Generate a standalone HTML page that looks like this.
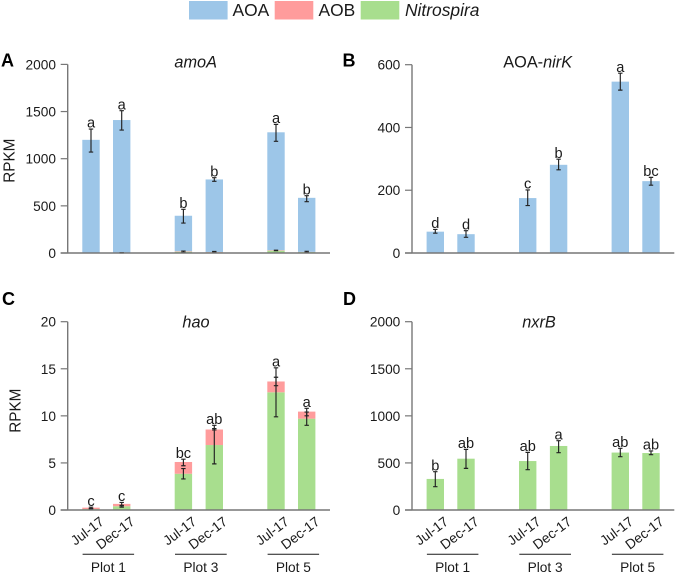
<!DOCTYPE html>
<html lang="en">
<head>
<meta charset="utf-8">
<title>RPKM of nitrification genes</title>
<style>
html,body{margin:0;padding:0;background:#fff;width:675px;height:573px;overflow:hidden}
svg{display:block;font-family:"Liberation Sans",sans-serif;fill:#1a1a1a}
</style>
</head>
<body>
<svg id="figure" width="675" height="573" viewBox="0 0 675 573" xmlns="http://www.w3.org/2000/svg">
  <g>
    <rect x="189" y="1" width="38.6" height="18.5" fill="#9DC6E8"/>
    <text x="232.5" y="16" font-size="17.4">AOA</text>
    <rect x="274.7" y="1" width="38.6" height="18.5" fill="#FF9C9C"/>
    <text x="318.5" y="16" font-size="17.4">AOB</text>
    <rect x="360.7" y="1" width="38.6" height="18.5" fill="#A8DE8E"/>
    <text x="405" y="16" font-size="17.4" font-style="italic">Nitrospira</text>
  </g>
  <text x="1" y="66.7" font-size="18" font-weight="bold" fill="#000">A</text>
  <text x="342.5" y="66.7" font-size="18" font-weight="bold" fill="#000">B</text>
  <text x="2" y="305" font-size="18" font-weight="bold" fill="#000">C</text>
  <text x="343" y="305" font-size="18" font-weight="bold" fill="#000">D</text>
  <text x="195.7" y="67.5" font-size="16.3" font-style="italic" text-anchor="middle">amoA</text>
  <text x="537.7" y="67.5" font-size="16.3" text-anchor="middle">AOA-<tspan font-style="italic">nirK</tspan></text>
  <text x="196" y="327.7" font-size="16.3" font-style="italic" text-anchor="middle">hao</text>
  <text x="539" y="327.7" font-size="16.3" font-style="italic" text-anchor="middle">nxrB</text>
  <text font-size="15.3" text-anchor="middle" transform="translate(14.5 160.7) rotate(-90)">RPKM</text>
  <text font-size="15.3" text-anchor="middle" transform="translate(20.5 410.7) rotate(-90)">RPKM</text>
</svg>
<script>
// Shared categories
const dates = ['Jul-17', 'Dec-17', 'Jul-17', 'Dec-17', 'Jul-17', 'Dec-17'];
const plots = ['Plot 1', 'Plot 3', 'Plot 5'];

// Panel A: amoA
const amoaTicks = [0, 500, 1000, 1500, 2000];
const amoaNitrospira = [3, 2, 14, 8, 25, 10];
const amoaAob = [2, 1, 5, 3, 5, 2];
const amoaAoa = [1195, 1407, 376, 769, 1250, 573];
const amoaNitrospiraLow = [null, 0, 5, 4, 24, 4];
const amoaNitrospiraHigh = [null, 4, 20, 16, 30, 18];
const amoaAoaLow = [1070, 1304, 318, 760, 1184, 544];
const amoaAoaHigh = [1314, 1509, 463, 799, 1364, 608];
const amoaLetters = ['a', 'a', 'b', 'b', 'a', 'b'];

// Panel B: AOA-nirK
const nirkTicks = [0, 200, 400, 600];
const nirkAoa = [68, 60, 175, 281, 546, 229];
const nirkLow = [63, 50, 151, 265, 519, 216];
const nirkHigh = [75, 71, 201, 299, 573, 241];
const nirkLetters = ['d', 'd', 'c', 'b', 'a', 'bc'];

// Panel C: hao
const haoTicks = [0, 5, 10, 15, 20];
const haoNitrospira = [0.1, 0.4, 3.85, 6.9, 12.5, 9.7];
const haoAob = [0.15, 0.25, 1.25, 1.65, 1.15, 0.75];
const haoNitrospiraLow = [0.05, 0.3, 3.3, 4.9, 9.9, 9.0];
const haoNitrospiraHigh = [0.15, 0.5, 4.4, 8.65, 14.1, 10.4];
const haoAobLow = [0.15, 0.45, 4.7, 8.5, 13.2, 10.0];
const haoAobHigh = [0.3, 0.8, 5.4, 9.0, 15.1, 10.8];
const haoLetters = ['c', 'c', 'bc', 'ab', 'a', 'a'];

// Panel D: nxrB
const nxrbTicks = [0, 500, 1000, 1500, 2000];
const nxrbNitrospira = [330, 545, 520, 680, 610, 605];
const nxrbLow = [248, 442, 428, 609, 566, 588];
const nxrbHigh = [407, 644, 612, 736, 655, 627];
const nxrbLetters = ['b', 'ab', 'ab', 'a', 'ab', 'ab'];

const AOA_COLOR = '#9DC6E8';
const AOB_COLOR = '#FF9C9C';
const NITRO_COLOR = '#A8DE8E';
const AXIS_COLOR = '#777777';
const NS = 'http://www.w3.org/2000/svg';
const figure = document.getElementById('figure');

function make(tag, attrs, text) {
  const el = document.createElementNS(NS, tag);
  for (const k in attrs) el.setAttribute(k, attrs[k]);
  if (text !== undefined) el.textContent = text;
  figure.appendChild(el);
  return el;
}

function drawPanel(p) {
  const yScale = v => p.y0 - (v / p.max) * (p.y0 - p.yTop);
  const xScale = i => p.axisX + [23.3, 54, 115.7, 146.6, 208.3, 239][i];
  const barWidth = 17.4;

  // Stacked bars
  const base = p.letters.map(() => 0);
  p.series.forEach(s => {
    s.values.forEach((v, i) => {
      const top = yScale(base[i] + v);
      const bottom = yScale(base[i]);
      const bar = make('rect', {x: xScale(i) - barWidth / 2, y: top, width: barWidth, height: bottom - top, fill: s.color});
      
      
      base[i] += v;
    });
  });

  // Error bars
  const tops = p.letters.map(() => 0);
  p.errors.forEach(e => {
    e.low.forEach((lo, i) => {
      if (lo === null) return;
      const hi = e.high[i];
      tops[i] = Math.max(tops[i], hi);
      const d = 'M' + (xScale(i) - 2.2) + ' ' + yScale(hi) + 'h4.4M' + xScale(i) + ' ' + yScale(hi) + 'V' + yScale(lo) + 'M' + (xScale(i) - 2.2) + ' ' + yScale(lo) + 'h4.4';
      const err = make('path', {d: d, fill: 'none', stroke: '#222222', 'stroke-width': 1.15});
      
      
    });
  });

  // Significance letters
  p.letters.forEach((t, i) => {
    const top = Math.max(tops[i], base[i]);
    const lab = make('text', {x: xScale(i), y: yScale(top) - 1.4, 'font-size': 14.6, 'text-anchor': 'middle'}, t);
    
    
  });

  // Axes
  const yAxis = make('line', {x1: p.axisX, x2: p.axisX, y1: p.yTop, y2: p.y0, stroke: AXIS_COLOR, 'stroke-width': 1.4});
  
  
  const xAxis = make('line', {x1: p.axisX - 7, x2: p.axisX + 262.3, y1: p.y0, y2: p.y0, stroke: AXIS_COLOR, 'stroke-width': 1.4});
  
  

  p.ticks.forEach(t => {
    const y = yScale(t);
    const tick = make('line', {x1: p.axisX - 7, x2: p.axisX, y1: y, y2: y, stroke: AXIS_COLOR, 'stroke-width': 1.2});
    
    
    const lab = make('text', {x: p.axisX - 11.7, y: y + 5, 'font-size': 13.7, 'text-anchor': 'end'}, String(t));
    
    
  });

  // X labels (bottom row only)
  if (p.showX) {
    dates.forEach((t, i) => {
      const lab = make('text', {'font-size': 13.7, 'text-anchor': 'end', transform: 'translate(' + (xScale(i) + 14) + ' ' + (p.y0 + 13.5) + ') rotate(-37)'}, t);
      
      
    });
    plots.forEach((t, k) => {
      const a = xScale(k * 2) - 8.4;
      const b = xScale(k * 2 + 1) + 12.4;
      const rule = make('line', {x1: a, x2: b, y1: 554.3, y2: 554.3, stroke: '#1a1a1a', 'stroke-width': 1});
      
      
      const lab = make('text', {x: (a + b) / 2, y: 572, 'font-size': 13.7, 'text-anchor': 'middle'}, t);
      
      
    });
  }
}

drawPanel({
  id: 'panel-a', axisX: 67.7, yTop: 64.4, y0: 253, max: 2000, ticks: amoaTicks, letters: amoaLetters, showX: false,
  series: [
    {name: 'nitrospira', color: NITRO_COLOR, values: amoaNitrospira},
    {name: 'aob', color: AOB_COLOR, values: amoaAob},
    {name: 'aoa', color: AOA_COLOR, values: amoaAoa}
  ],
  errors: [
    {name: 'nitrospira', low: amoaNitrospiraLow, high: amoaNitrospiraHigh},
    {name: 'aoa', low: amoaAoaLow, high: amoaAoaHigh}
  ]
});

drawPanel({
  id: 'panel-b', axisX: 412, yTop: 64.7, y0: 253, max: 600, ticks: nirkTicks, letters: nirkLetters, showX: false,
  series: [{name: 'aoa', color: AOA_COLOR, values: nirkAoa}],
  errors: [{name: 'aoa', low: nirkLow, high: nirkHigh}]
});

drawPanel({
  id: 'panel-c', axisX: 67.7, yTop: 321.7, y0: 510, max: 20, ticks: haoTicks, letters: haoLetters, showX: true,
  series: [
    {name: 'nitrospira', color: NITRO_COLOR, values: haoNitrospira},
    {name: 'aob', color: AOB_COLOR, values: haoAob}
  ],
  errors: [
    {name: 'nitrospira', low: haoNitrospiraLow, high: haoNitrospiraHigh},
    {name: 'aob', low: haoAobLow, high: haoAobHigh}
  ]
});

drawPanel({
  id: 'panel-d', axisX: 412, yTop: 321.7, y0: 510, max: 2000, ticks: nxrbTicks, letters: nxrbLetters, showX: true,
  series: [{name: 'nitrospira', color: NITRO_COLOR, values: nxrbNitrospira}],
  errors: [{name: 'nitrospira', low: nxrbLow, high: nxrbHigh}]
});
</script>
</body>
</html>
